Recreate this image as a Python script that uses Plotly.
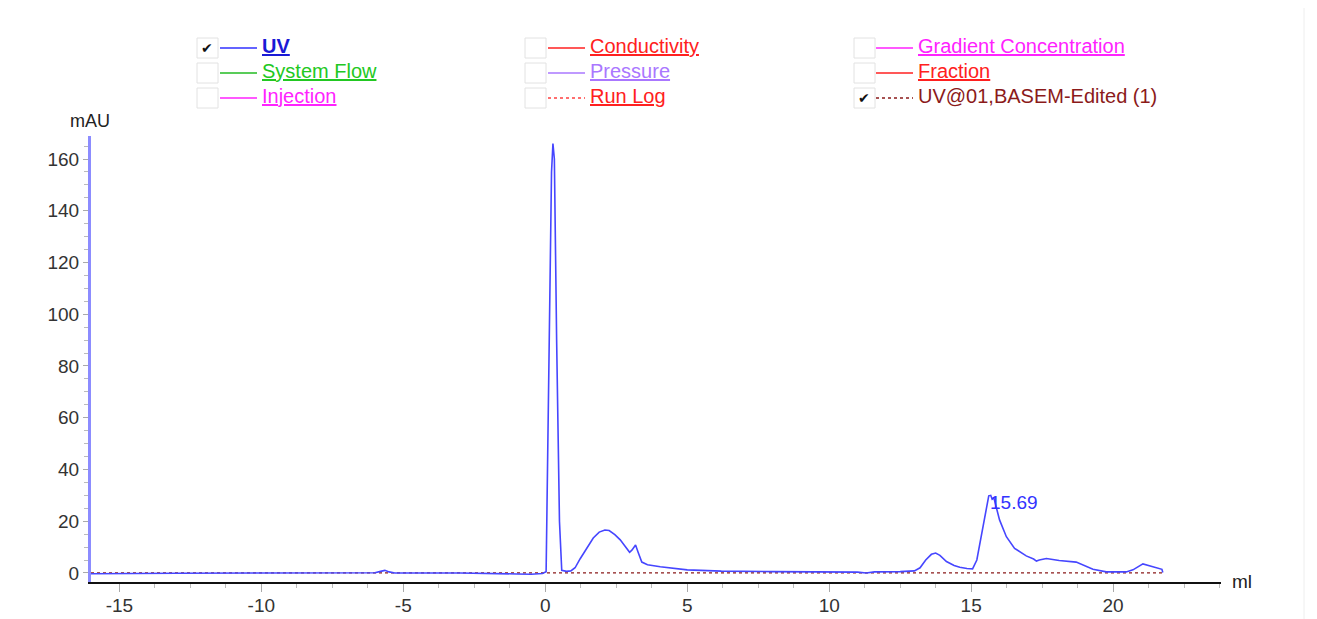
import plotly.graph_objects as go

# ---------------- data ----------------
uv_ml = [-16.0, -14.0, -13.0, -10.0, -7.0, -6.0, -5.8, -5.65, -5.5, -5.3, -3.0, -1.5, -1.0, -0.5, -0.1,
         0.03, 0.15, 0.22, 0.27, 0.32, 0.40, 0.50, 0.58, 0.75, 0.9, 1.05, 1.23, 1.45, 1.69, 1.9, 2.1,
         2.25, 2.45, 2.64, 2.8, 2.97, 3.05, 3.18, 3.27, 3.4, 3.6, 4.05, 5.0, 6.2, 8.0, 10.0, 11.0, 11.3,
         11.6, 12.5, 13.0, 13.2, 13.4, 13.6, 13.75, 13.9, 14.13, 14.4, 14.6, 14.85, 15.05, 15.2, 15.3,
         15.42, 15.52, 15.62, 15.69, 15.74, 15.8, 15.9, 16.0, 16.24, 16.53, 16.94, 17.2, 17.3, 17.4,
         17.65, 18.1, 18.7, 18.93, 19.29, 19.76, 20.46, 20.7, 21.05, 21.4, 21.72, 21.75]
uv_mau = [-0.3, -0.3, -0.1, 0.0, 0.0, 0.1, 0.6, 1.0, 0.4, 0.0, 0.0, -0.1, -0.4, -0.5, -0.2,
          0.5, 100, 155, 166, 160, 90, 20, 1.0, 0.6, 0.8, 2.0, 5.5, 9.5, 13.5, 15.8, 16.6,
          16.4, 14.8, 12.8, 10.5, 8.0, 8.8, 10.8, 8.0, 4.2, 3.2, 2.4, 1.2, 0.7, 0.5, 0.4, 0.3, 0.0,
          0.4, 0.5, 0.8, 2.0, 5.0, 7.2, 7.7, 6.8, 4.4, 2.9, 2.2, 1.7, 1.6, 5.0, 11.0,
          18.0, 25.0, 29.8, 30.0, 28.5, 29.0, 25.0, 20.5, 14.0, 9.5, 6.6, 5.4, 4.6, 5.0,
          5.6, 4.8, 4.2, 3.1, 1.4, 0.4, 0.4, 1.2, 3.5, 2.4, 1.4, 0.2]

baseline_ml = [-16.0, 21.75]
baseline_mau = [0.0, 0.0]

peak_label_ml = 15.69
peak_label_mau = 30.0
peak_label_text = "15.69"

x_tickvals = [-15, -10, -5, 0, 5, 10, 15, 20]
y_tickvals = [0, 20, 40, 60, 80, 100, 120, 140, 160]

legend_names = ["UV", "System Flow", "Injection",
                "Conductivity", "Pressure", "Run Log",
                "Gradient Concentration", "Fraction", "UV@01,BASEM-Edited (1)"]
legend_line_colors = ["#3030ff", "#22bb22", "#ff22ff",
                      "#ff2020", "#aa77ff", "#ff4040",
                      "#ff22ff", "#ff2020", "#8b1a1a"]
legend_text_colors = ["#1a1ad6", "#22c822", "#ff22ff",
                      "#ff2020", "#aa77ff", "#ff2020",
                      "#ff22ff", "#ff2020", "#8b1a1a"]
legend_checked = [True, False, False, False, False, False, False, False, True]
legend_dashed = [False, False, False, False, False, True, False, False, True]
legend_underline = [True, True, True, True, True, True, True, True, False]
legend_bold = [True, False, False, False, False, False, False, False, False]

# ---------------- layout geometry ----------------
OFF = 8  # page body margin
W, H = 1317 - OFF, 619 - OFF
PL, PR, PT, PB = 91, 1221, 136, 582  # plot area in screen pixels
L = PL - OFF
T = PT - OFF
R = W - (PR - OFF)
B = H - (PB - OFF)
PW = PR - PL
PH = PB - PT


def px_x(x):
    return (x - PL) / PW


def px_y(y):
    return (PB - y) / PH


FONT = "Liberation Sans, Arial, sans-serif"

fig = go.Figure()

fig.add_trace(go.Scatter(x=baseline_ml, y=baseline_mau, mode="lines",
                         line=dict(color="#8b1a1a", width=1.2, dash="dot"),
                         hoverinfo="skip", showlegend=False))
fig.add_trace(go.Scatter(x=uv_ml, y=uv_mau, mode="lines",
                         line=dict(color="#4646ff", width=1.6),
                         showlegend=False, name="UV"))

annotations = []
shapes = []

annotations.append(dict(x=peak_label_ml, y=peak_label_mau, xref="x", yref="y",
                        text=peak_label_text, showarrow=False, xanchor="left", yanchor="middle",
                        xshift=-3, yshift=-7,
                        font=dict(family=FONT, size=19, color="#3333ff")))

# axis titles
annotations.append(dict(x=px_x(90), y=px_y(121), xref="paper", yref="paper", text="mAU",
                        showarrow=False, xanchor="center", yanchor="middle",
                        font=dict(family=FONT, size=18, color="#222222")))
annotations.append(dict(x=px_x(1230), y=px_y(581), xref="paper", yref="paper", text="ml",
                        showarrow=False, xanchor="left", yanchor="middle",
                        font=dict(family=FONT, size=19, color="#222222")))

# custom legend
col_box_x = [197, 525, 854]
col_line_x = [(220, 257), (548, 585), (876, 913)]
col_text_x = [260, 588, 916]
row_y = [48, 73, 98]
for i, name in enumerate(legend_names):
    c, r = divmod(i, 3)
    yc = row_y[r]
    bx = col_box_x[c]
    shapes.append(dict(type="rect", xref="paper", yref="paper",
                       x0=px_x(bx), x1=px_x(bx + 21), y0=px_y(yc - 10), y1=px_y(yc + 10),
                       line=dict(color="#e2e2e2", width=1), fillcolor="white"))
    if legend_checked[i]:
        annotations.append(dict(x=px_x(bx + 10), y=px_y(yc), xref="paper", yref="paper",
                                text="✔", showarrow=False, xanchor="center", yanchor="middle",
                                font=dict(family="DejaVu Sans", size=14, color="#111111")))
    lx0, lx1 = col_line_x[c]
    shapes.append(dict(type="line", xref="paper", yref="paper",
                       x0=px_x(lx0), x1=px_x(lx1), y0=px_y(yc), y1=px_y(yc),
                       line=dict(color=legend_line_colors[i], width=1.3,
                                 dash="dot" if legend_dashed[i] else "solid")))
    txt = name
    if legend_bold[i]:
        txt = "<b>" + txt + "</b>"
    if legend_underline[i]:
        txt = "<u>" + txt + "</u>"
    annotations.append(dict(x=px_x(col_text_x[c]), y=px_y(yc - 2), xref="paper", yref="paper",
                            text=txt, showarrow=False, xanchor="left", yanchor="middle",
                            font=dict(family=FONT, size=20, color=legend_text_colors[i])))

# faint page border on the right
shapes.append(dict(type="line", xref="paper", yref="paper",
                   x0=px_x(1304), x1=px_x(1304), y0=px_y(-10), y1=px_y(640),
                   line=dict(color="#eeeeee", width=1)))

fig.update_layout(
    width=W, height=H,
    margin=dict(l=L, r=R, t=T, b=B, pad=0, autoexpand=False),
    paper_bgcolor="white", plot_bgcolor="white",
    showlegend=False,
    annotations=annotations, shapes=shapes,
    font=dict(family=FONT, size=19, color="#333333"),
    xaxis=dict(range=[-16.0, 23.8], showgrid=False, zeroline=False, automargin=False,
               showline=True, linecolor="#111111", linewidth=2,
               tickvals=x_tickvals, ticktext=[str(v) for v in x_tickvals],
               ticks="outside", ticklen=8, tickcolor="#aaaaaa", tickwidth=1,
               ticklabelstandoff=-3,
               tickfont=dict(family=FONT, size=19, color="#333333"),
               minor=dict(dtick=1.25, tick0=0, ticks="outside", ticklen=4,
                          tickcolor="#bbbbbb", tickwidth=1, showgrid=False)),
    yaxis=dict(range=[-3.5, 168.9], showgrid=False, zeroline=False, automargin=False,
               showline=True, linecolor="#8c8cff", linewidth=3,
               tickvals=y_tickvals, ticktext=[str(v) for v in y_tickvals],
               ticks="outside", ticklen=5, tickcolor="#aaaaaa", tickwidth=1,
               tickfont=dict(family=FONT, size=19, color="#333333"),
               minor=dict(dtick=5, tick0=0, ticks="outside", ticklen=4,
                          tickcolor="#bbbbbb", tickwidth=1, showgrid=False)),
)

fig.write_html("out.html")
